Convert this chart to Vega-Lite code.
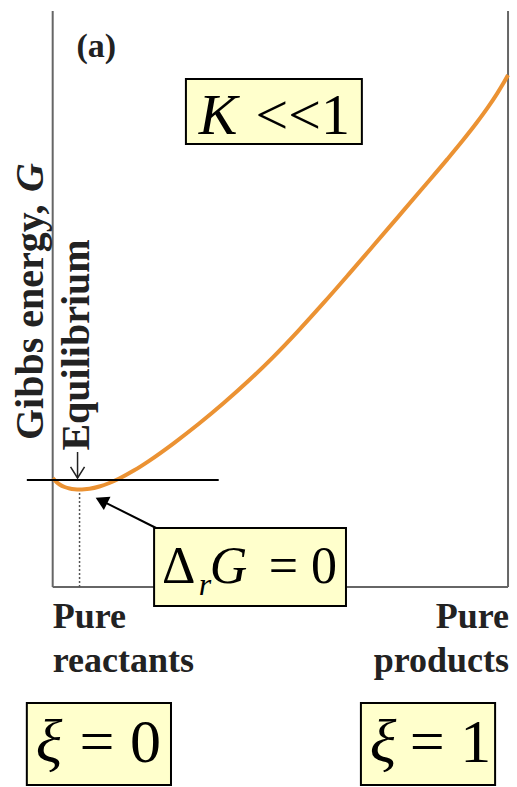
{
  "$schema": "https://vega.github.io/schema/vega-lite/v6.json",
  "width": 517,
  "height": 787,
  "autosize": {"type": "fit", "contains": "padding"},
  "padding": 0,
  "background": "white",
  "config": {"view": {"stroke": null}},
  "encoding": {
    "x": {"field": "x", "type": "quantitative", "axis": null, "scale": {"domain": [-0.11572, 1.0131], "nice": false, "zero": false}},
    "y": {"field": "y", "type": "quantitative", "axis": null, "scale": {"domain": [-0.390625, 1.146484], "nice": false, "zero": false}}
  },
  "layer": [
    {
      "data": {"values": [
        {"x": 0, "y": 0, "x2": 0, "y2": 1.125},
        {"x": 1, "y": 0, "x2": 1, "y2": 1.125},
        {"x": 0, "y": 0, "x2": 1, "y2": 0}
      ]},
      "mark": {"type": "rule", "color": "#666666", "strokeWidth": 2},
      "encoding": {"x2": {"field": "x2"}, "y2": {"field": "y2"}}
    },
    {
      "data": {"values": [{"x": 0.059, "y": 0, "x2": 0.059, "y2": 0.1904}]},
      "mark": {"type": "rule", "color": "#555555", "strokeWidth": 1.5, "strokeDash": [2, 2]},
      "encoding": {"x2": {"field": "x2"}, "y2": {"field": "y2"}}
    },
    {
      "data": {"values": [
        {"x": 0, "y": 0.2125}, {"x": 0.00873, "y": 0.2045}, {"x": 0.01528, "y": 0.2002},
        {"x": 0.0262, "y": 0.1953}, {"x": 0.03712, "y": 0.1924}, {"x": 0.04803, "y": 0.1909},
        {"x": 0.05895, "y": 0.1904}, {"x": 0.06987, "y": 0.1908}, {"x": 0.08079, "y": 0.1919},
        {"x": 0.10262, "y": 0.1963}, {"x": 0.12445, "y": 0.2031}, {"x": 0.14629, "y": 0.2119},
        {"x": 0.17904, "y": 0.2279}, {"x": 0.21179, "y": 0.2465}, {"x": 0.26638, "y": 0.2812},
        {"x": 0.32096, "y": 0.3188}, {"x": 0.37555, "y": 0.3593}, {"x": 0.43013, "y": 0.4027},
        {"x": 0.48472, "y": 0.4496}, {"x": 0.5393, "y": 0.5004}, {"x": 0.59389, "y": 0.5539},
        {"x": 0.64847, "y": 0.6092}, {"x": 0.70306, "y": 0.6654}, {"x": 0.75764, "y": 0.722},
        {"x": 0.81223, "y": 0.7787}, {"x": 0.86681, "y": 0.8357}, {"x": 0.89956, "y": 0.871},
        {"x": 0.93231, "y": 0.9081}, {"x": 0.95415, "y": 0.9347}, {"x": 0.97598, "y": 0.9637},
        {"x": 0.98908, "y": 0.9827}, {"x": 1.0, "y": 1.0}
      ]},
      "mark": {"type": "line", "color": "#EB9233", "strokeWidth": 4, "interpolate": "monotone"},
      "encoding": {}
    },
    {
      "data": {"values": [{"x": -0.0568, "y": 0.209, "x2": 0.3646, "y2": 0.209}]},
      "mark": {"type": "rule", "color": "black", "strokeWidth": 2},
      "encoding": {"x2": {"field": "x2"}, "y2": {"field": "y2"}}
    },
    {
      "data": {"values": [{"x": 0.2271, "y": 0.1152, "x2": 0.107, "y2": 0.1688}]},
      "mark": {"type": "rule", "color": "black", "strokeWidth": 2},
      "encoding": {"x2": {"field": "x2"}, "y2": {"field": "y2"}}
    },
    {
      "data": {"values": [{"x": 0.107, "y": 0.1688}]},
      "mark": {"type": "point", "shape": "triangle-up", "filled": true, "color": "black", "opacity": 1, "size": 220, "angle": 296.6},
      "encoding": {}
    },
    {
      "data": {"values": [{"x": 0.0546, "y": 0.2637, "x2": 0.0546, "y2": 0.2129}]},
      "mark": {"type": "rule", "color": "#222222", "strokeWidth": 1.5},
      "encoding": {"x2": {"field": "x2"}, "y2": {"field": "y2"}}
    },
    {
      "data": {"values": [{"x": 0.0546, "y": 0.2238}]},
      "mark": {"type": "point", "shape": "M-1,-0.8L0,0.8L1,-0.8", "filled": false, "color": "#222222", "strokeWidth": 1.5, "opacity": 1, "size": 196},
      "encoding": {}
    },
    {
      "data": {"values": [
        {"x": 0.2926, "x2": 0.679, "y": 0.9922, "y2": 0.8652},
        {"x": 0.2227, "x2": 0.6441, "y": 0.1152, "y2": -0.0371},
        {"x": -0.0568, "x2": 0.2598, "y": -0.2266, "y2": -0.3867},
        {"x": 0.6769, "x2": 0.9716, "y": -0.2266, "y2": -0.3867}
      ]},
      "mark": {"type": "rect", "fill": "#FFFFCC", "stroke": "black", "strokeWidth": 2},
      "encoding": {"x2": {"field": "x2"}, "y2": {"field": "y2"}}
    },
    {
      "data": {"values": [{"x": 0.0524, "y": 1.0352, "label": "(a)"}]},
      "mark": {"type": "text", "font": "Liberation Serif", "fontWeight": "bold", "fontSize": 34, "align": "left", "baseline": "alphabetic", "color": "#222222"},
      "encoding": {"text": {"field": "label"}}
    },
    {
      "data": {"values": [{"x": -0.0218, "y": 0.2871, "label": "Gibbs energy,"}]},
      "mark": {"type": "text", "font": "Liberation Serif", "fontWeight": "bold", "fontSize": 40, "angle": -90, "align": "left", "baseline": "alphabetic", "color": "#222222"},
      "encoding": {"text": {"field": "label"}}
    },
    {
      "data": {"values": [{"x": -0.0218, "y": 0.7715, "label": "G"}]},
      "mark": {"type": "text", "font": "Liberation Serif", "fontWeight": "bold", "fontStyle": "italic", "fontSize": 40, "angle": -90, "align": "left", "baseline": "alphabetic", "color": "#222222"},
      "encoding": {"text": {"field": "label"}}
    },
    {
      "data": {"values": [{"x": 0.0808, "y": 0.4727, "label": "Equilibrium"}]},
      "mark": {"type": "text", "font": "Liberation Serif", "fontWeight": "bold", "fontSize": 40, "angle": -90, "align": "center", "baseline": "alphabetic", "color": "#222222"},
      "encoding": {"text": {"field": "label"}}
    },
    {
      "data": {"values": [{"x": 0, "y": -0.0801, "label": "Pure\nreactants"}]},
      "mark": {"type": "text", "font": "Liberation Serif", "fontWeight": "bold", "fontSize": 36, "align": "left", "baseline": "alphabetic", "lineBreak": "\n", "lineHeight": 44, "color": "#222222"},
      "encoding": {"text": {"field": "label"}}
    },
    {
      "data": {"values": [{"x": 1.0022, "y": -0.0801, "label": "Pure\nproducts"}]},
      "mark": {"type": "text", "font": "Liberation Serif", "fontWeight": "bold", "fontSize": 36, "align": "right", "baseline": "alphabetic", "lineBreak": "\n", "lineHeight": 44, "color": "#222222"},
      "encoding": {"text": {"field": "label"}}
    },
    {
      "data": {"values": [{"x": 0.321, "y": 0.8848, "label": "K"}]},
      "mark": {"type": "text", "font": "Liberation Serif", "fontStyle": "italic", "fontSize": 58, "align": "left", "baseline": "alphabetic", "color": "black"},
      "encoding": {"text": {"field": "label"}}
    },
    {
      "data": {"values": [{"x": 0.6528, "y": 0.8848, "label": "<<1"}]},
      "mark": {"type": "text", "font": "Liberation Serif", "fontSize": 58, "align": "right", "baseline": "alphabetic", "color": "black"},
      "encoding": {"text": {"field": "label"}}
    },
    {
      "data": {"values": [{"x": 0.2402, "y": 0.0078, "label": "Δ"}]},
      "mark": {"type": "text", "font": "Liberation Serif", "fontSize": 52, "align": "left", "baseline": "alphabetic", "color": "black"},
      "encoding": {"text": {"field": "label"}}
    },
    {
      "data": {"values": [{"x": 0.321, "y": -0.0156, "label": "r"}]},
      "mark": {"type": "text", "font": "Liberation Serif", "fontStyle": "italic", "fontSize": 32, "align": "left", "baseline": "alphabetic", "color": "black"},
      "encoding": {"text": {"field": "label"}}
    },
    {
      "data": {"values": [{"x": 0.345, "y": 0.0078, "label": "G"}]},
      "mark": {"type": "text", "font": "Liberation Serif", "fontStyle": "italic", "fontSize": 52, "align": "left", "baseline": "alphabetic", "color": "black"},
      "encoding": {"text": {"field": "label"}}
    },
    {
      "data": {"values": [{"x": 0.6245, "y": 0.0078, "label": "= 0"}]},
      "mark": {"type": "text", "font": "Liberation Serif", "fontSize": 52, "align": "right", "baseline": "alphabetic", "color": "black"},
      "encoding": {"text": {"field": "label"}}
    },
    {
      "data": {"values": [{"x": -0.0371, "y": -0.3418, "label": "ξ"}, {"x": 0.6965, "y": -0.3418, "label": "ξ"}]},
      "mark": {"type": "text", "font": "Liberation Serif", "fontStyle": "italic", "fontSize": 62, "align": "left", "baseline": "alphabetic", "color": "black"},
      "encoding": {"text": {"field": "label"}}
    },
    {
      "data": {"values": [{"x": 0.238, "y": -0.3418, "label": "= 0"}, {"x": 0.9629, "y": -0.3418, "label": "= 1"}]},
      "mark": {"type": "text", "font": "Liberation Serif", "fontSize": 62, "align": "right", "baseline": "alphabetic", "color": "black"},
      "encoding": {"text": {"field": "label"}}
    }
  ]
}
